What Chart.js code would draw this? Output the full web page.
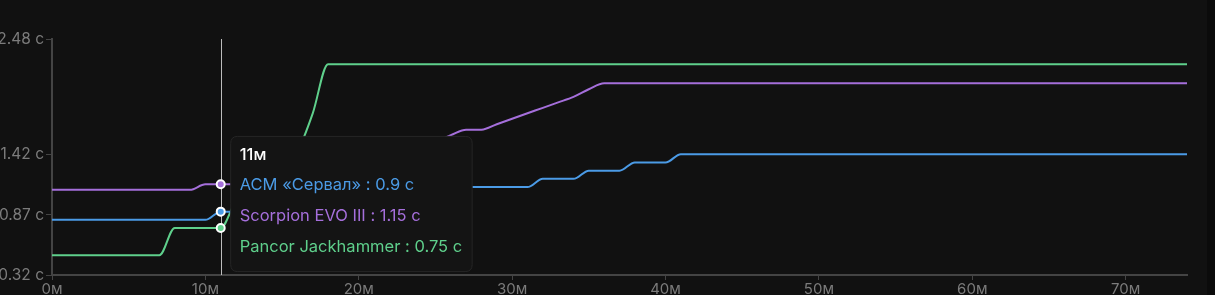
<!DOCTYPE html>
<html><head><meta charset="utf-8">
<script src="https://cdn.jsdelivr.net/npm/chart.js@4.4.1/dist/chart.umd.min.js"></script>
<style>
html,body{margin:0;padding:0;background:#0b0b0b;overflow:hidden;}
#wrap{width:1207px;height:295px;background:#111111;position:relative;}
</style></head><body>
<div id="wrap"><canvas id="c"></canvas></div>
<script>
const minutes = [0,1,2,3,4,5,6,7,8,9,10,11,12,13,14,15,16,17,18,19,20,21,22,23,24,25,26,27,28,29,30,31,32,33,34,35,36,37,38,39,40,41,42,43,44,45,46,47,48,49,50,51,52,53,54,55,56,57,58,59,60,61,62,63,64,65,66,67,68,69,70,71,72,73,74];

const acmServal = [0.825,0.825,0.825,0.825,0.825,0.825,0.825,0.825,0.825,0.825,0.825,
  0.9,0.9,0.9,0.9,
  0.975,0.975,0.975,0.975,
  1.05,1.05,1.05,1.05,1.05,
  1.125,1.125,1.125,1.125,1.125,1.125,1.125,1.125,
  1.2,1.2,1.2,
  1.275,1.275,1.275,
  1.35,1.35,1.35,
  1.425,1.425,1.425,1.425,1.425,1.425,1.425,1.425,1.425,1.425,1.425,1.425,1.425,1.425,1.425,1.425,1.425,1.425,1.425,1.425,1.425,1.425,1.425,1.425,1.425,1.425,1.425,1.425,1.425,1.425,1.425,1.425,1.425,1.425];

const scorpion = [1.1,1.1,1.1,1.1,1.1,1.1,1.1,1.1,1.1,1.1,
  1.15,1.15,1.15,
  1.2,1.25,1.25,1.3,1.35,1.35,1.4,1.45,1.45,1.5,1.5,1.55,1.55,1.6,1.65,1.65,1.7,1.75,1.8,1.85,1.9,1.95,2.02,
  2.075,2.075,2.075,2.075,2.075,2.075,2.075,2.075,2.075,2.075,2.075,2.075,2.075,2.075,2.075,2.075,2.075,2.075,2.075,2.075,2.075,2.075,2.075,2.075,2.075,2.075,2.075,2.075,2.075,2.075,2.075,2.075,2.075,2.075,2.075,2.075,2.075,2.075,2.075];

const pancor = [0.5,0.5,0.5,0.5,0.5,0.5,0.5,0.5,
  0.75,0.75,0.75,0.75,
  1.0,1.1,1.2,1.3,1.45,1.8,
  2.25,2.25,2.25,2.25,2.25,2.25,2.25,2.25,2.25,2.25,2.25,2.25,2.25,2.25,2.25,2.25,2.25,2.25,2.25,2.25,2.25,2.25,2.25,2.25,2.25,2.25,2.25,2.25,2.25,2.25,2.25,2.25,2.25,2.25,2.25,2.25,2.25,2.25,2.25,2.25,2.25,2.25,2.25,2.25,2.25,2.25,2.25,2.25,2.25,2.25,2.25,2.25,2.25,2.25,2.25,2.25,2.25];

const seriesNames = ['АСМ «Сервал»', 'Scorpion EVO III', 'Pancor Jackhammer'];
const yTicks = [0.32, 0.87, 1.42, 2.48];
const xTicks = [0,10,20,30,40,50,60,70];
const hoverMinute = 11;

const colors = ['#4b9be6', '#a56fdb', '#5fd08c'];
const FONT = 'Inter, "Open Sans", sans-serif';

function toPoints(vals){ return minutes.map((m,i)=>({x:m,y:vals[i]})); }

Chart.Tooltip.positioners.avgShift = function(elements){
  const p = Chart.Tooltip.positioners.average.call(this, elements);
  if(!p) return p;
  return { x: p.x, y: p.y - 4 };
};

const crosshair = {
  id:'crosshair',
  beforeDatasetsDraw(chart){
    const a = chart.tooltip.getActiveElements();
    if(!a.length) return;
    const x = Math.round(a[0].element.x) + 0.5;
    const {top,bottom} = chart.chartArea;
    const ctx = chart.ctx;
    ctx.save();
    ctx.strokeStyle = '#bcbcbc';
    ctx.lineWidth = 1;
    ctx.beginPath(); ctx.moveTo(x, top); ctx.lineTo(x, bottom); ctx.stroke();
    ctx.restore();
  }
};

const ds = [acmServal, scorpion, pancor].map((v,i)=>({
  label: seriesNames[i],
  data: toPoints(v),
  borderColor: colors[i],
  backgroundColor: colors[i],
  borderWidth: 2,
  pointRadius: 0,
  pointHoverRadius: 4,
  pointHoverBorderWidth: 2,
  pointHoverBorderColor: '#ffffff',
  pointHoverBackgroundColor: colors[i],
  cubicInterpolationMode: 'monotone',
  fill: false
}));

const chart = new Chart(document.getElementById('c'), {
  type: 'line',
  data: { datasets: ds },
  plugins: [crosshair],
  options: {
    responsive: true,
    maintainAspectRatio: false,
    animation: false,
    events: [],
    layout: { padding: { left: 0, right: 20, top: 39, bottom: 0 } },
    scales: {
      x: {
        type: 'linear', min: 0, max: 74,
        afterBuildTicks(s){ s.ticks = xTicks.map(v=>({value:v})); },
        ticks: { color: '#7c7c7c', font: { family: FONT, size: 15 }, padding: 0, maxRotation: 0,
          callback: v => v + 'м' },
        grid: { drawOnChartArea: false, drawTicks: true, tickLength: 5, color: '#444444' },
        border: { color: '#444444', width: 2 },
        afterFit(s){ s.height = 20; }
      },
      y: {
        min: 0.32, max: 2.48,
        afterBuildTicks(s){ s.ticks = yTicks.map(v=>({value:v})); },
        ticks: { color: '#7c7c7c', font: { family: FONT, size: 15.5 }, padding: 2,
          callback: v => v + ' с' },
        grid: { drawOnChartArea: false, drawTicks: true, tickLength: 6, color: '#444444' },
        border: { color: '#444444', width: 2 },
        afterFit(s){ s.width = 52; }
      }
    },
    plugins: {
      legend: { display: false },
      tooltip: {
        enabled: true,
        mode: 'index',
        intersect: false,
        position: 'avgShift',
        xAlign: 'left', yAlign: 'center',
        caretSize: 0, caretPadding: 10,
        backgroundColor: '#141414',
        borderColor: '#262626', borderWidth: 1,
        cornerRadius: 7,
        padding: { left: 9, right: 10, top: 9, bottom: 15 },
        displayColors: false,
        titleColor: '#ffffff',
        titleFont: { family: FONT, size: 16.5, weight: '500' },
        titleMarginBottom: 10,
        bodyFont: { family: FONT, size: 16.5, weight: '400' },
        bodySpacing: 11,
        callbacks: {
          title: items => items[0].parsed.x + 'м',
          label: item => item.dataset.label + ' : ' + item.parsed.y + ' с',
          labelTextColor: item => item.dataset.borderColor
        }
      }
    }
  }
});

const idx = minutes.indexOf(hoverMinute);
const active = [0,1,2].map(i=>({datasetIndex:i, index:idx}));
chart.setActiveElements(active);
chart.tooltip.setActiveElements(active, {x:0, y:0});
chart.update();
</script>
</body></html>
